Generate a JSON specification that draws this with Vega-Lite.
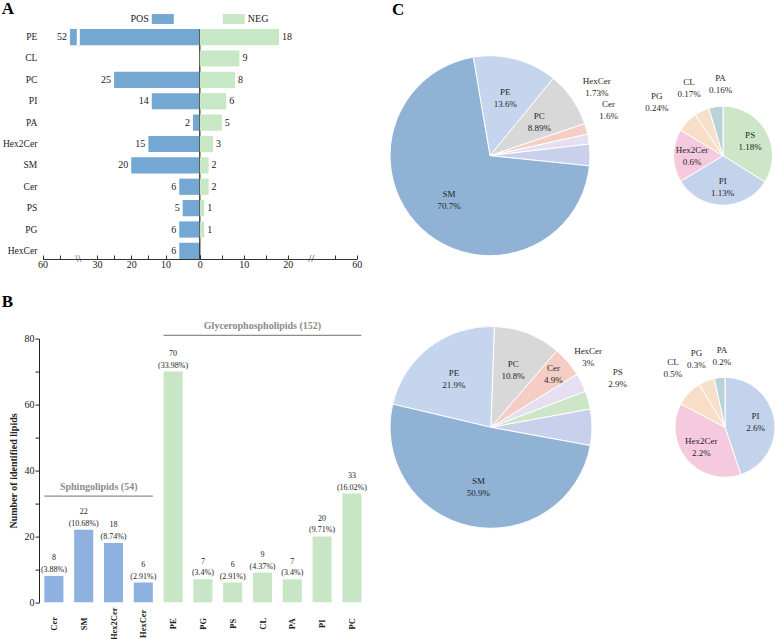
{
  "$schema": "https://vega.github.io/schema/vega-lite/v6.json",
  "background": "white",
  "padding": {"left": 1, "top": 0, "right": 0, "bottom": 0},
  "config": {
    "view": {"stroke": null},
    "font": "Liberation Serif",
    "axis": {"labelFont": "Liberation Serif", "titleFont": "Liberation Serif", "grid": false},
    "legend": {"labelFont": "Liberation Serif"},
    "title": {"font": "Liberation Serif"},
    "text": {"font": "Liberation Serif"}
  },
  "datasets": {
    "lipidsA": [
      {"lipid": "PE", "pos": 52, "neg": 18},
      {"lipid": "CL", "pos": 0, "neg": 9},
      {"lipid": "PC", "pos": 25, "neg": 8},
      {"lipid": "PI", "pos": 14, "neg": 6},
      {"lipid": "PA", "pos": 2, "neg": 5},
      {"lipid": "Hex2Cer", "pos": 15, "neg": 3},
      {"lipid": "SM", "pos": 20, "neg": 2},
      {"lipid": "Cer", "pos": 6, "neg": 2},
      {"lipid": "PS", "pos": 5, "neg": 1},
      {"lipid": "PG", "pos": 6, "neg": 1},
      {"lipid": "HexCer", "pos": 6, "neg": 0}
    ],
    "lipidsB": [
      {"lipid": "Cer", "class": "Sphingolipids", "n": 8, "pct": 3.88},
      {"lipid": "SM", "class": "Sphingolipids", "n": 22, "pct": 10.68},
      {"lipid": "Hex2Cer", "class": "Sphingolipids", "n": 18, "pct": 8.74},
      {"lipid": "HexCer", "class": "Sphingolipids", "n": 6, "pct": 2.91},
      {"lipid": "PE", "class": "Glycerophospholipids", "n": 70, "pct": 33.98},
      {"lipid": "PG", "class": "Glycerophospholipids", "n": 7, "pct": 3.4},
      {"lipid": "PS", "class": "Glycerophospholipids", "n": 6, "pct": 2.91},
      {"lipid": "CL", "class": "Glycerophospholipids", "n": 9, "pct": 4.37},
      {"lipid": "PA", "class": "Glycerophospholipids", "n": 7, "pct": 3.4},
      {"lipid": "PI", "class": "Glycerophospholipids", "n": 20, "pct": 9.71},
      {"lipid": "PC", "class": "Glycerophospholipids", "n": 33, "pct": 16.02}
    ],
    "pieTopMain": [
      {"lipid": "PE", "share": 0.136, "ord": 1},
      {"lipid": "PC", "share": 0.0889, "ord": 2},
      {"lipid": "HexCer", "share": 0.0173, "ord": 3},
      {"lipid": "Cer", "share": 0.016, "ord": 4},
      {"lipid": "Other", "share": 0.0348, "ord": 5},
      {"lipid": "SM", "share": 0.707, "ord": 6}
    ],
    "pieTopSub": [
      {"lipid": "PS", "share": 0.0118, "ord": 1},
      {"lipid": "PI", "share": 0.0113, "ord": 2},
      {"lipid": "Hex2Cer", "share": 0.006, "ord": 3},
      {"lipid": "PG", "share": 0.0024, "ord": 4},
      {"lipid": "CL", "share": 0.0017, "ord": 5},
      {"lipid": "PA", "share": 0.0016, "ord": 6}
    ],
    "pieBottomMain": [
      {"lipid": "PE", "share": 0.219, "ord": 1},
      {"lipid": "PC", "share": 0.108, "ord": 2},
      {"lipid": "Cer", "share": 0.049, "ord": 3},
      {"lipid": "HexCer", "share": 0.03, "ord": 4},
      {"lipid": "PS", "share": 0.029, "ord": 5},
      {"lipid": "Other", "share": 0.058, "ord": 6},
      {"lipid": "SM", "share": 0.509, "ord": 7}
    ],
    "pieBottomSub": [
      {"lipid": "PI", "share": 0.026, "ord": 1},
      {"lipid": "Hex2Cer", "share": 0.022, "ord": 2},
      {"lipid": "CL", "share": 0.005, "ord": 3},
      {"lipid": "PG", "share": 0.003, "ord": 4},
      {"lipid": "PA", "share": 0.002, "ord": 5}
    ]
  },
  "concat": [
    {
      "width": 317.8,
      "height": 230,
      "title": {"text": "A", "anchor": "start", "frame": "group", "dx": -37.2, "offset": -23.4, "baseline": "alphabetic", "fontSize": 17, "fontWeight": "bold", "color": "#000"},
      "data": {"name": "lipidsA"},
      "encoding": {
        "y": {
          "field": "lipid", "type": "nominal",
          "scale": {"domain": ["PE", "CL", "PC", "PI", "PA", "Hex2Cer", "SM", "Cer", "PS", "PG", "HexCer"], "paddingInner": 0.24, "paddingOuter": 0},
          "axis": {"title": null, "domain": false, "ticks": false, "labelPadding": 2.2, "labelFontSize": 9.5, "labelColor": "#222"}
        }
      },
      "resolve": {"scale": {"x": "independent"}},
      "layer": [
        {
          "encoding": {
            "x": {
              "field": "pos", "type": "quantitative",
              "scale": {"domain": [0, 35, 50, 60], "range": [160.8, 40.8, 37.8, 3.5], "nice": false, "zero": false},
              "axis": {"orient": "bottom", "title": null, "values": [0, 5, 10, 15, 20, 25, 30, 55, 60], "labelExpr": "datum.value % 10 === 0 ? datum.label : ''", "tickSize": -4, "tickColor": "#333", "domainColor": "#333", "labelFontSize": 10, "labelColor": "#222", "labelFlush": false, "labelOverlap": false, "labelPadding": 4}
            }
          },
          "layer": [
            {
              "transform": [{"filter": "datum.pos > 0"}],
              "mark": {"type": "bar"},
              "encoding": {
                "fill": {
                  "datum": "POS", "type": "nominal",
                  "scale": {"domain": ["POS"], "range": ["#75A7D3"]},
                  "legend": {"orient": "none", "legendX": 112.8, "legendY": -21, "direction": "horizontal", "title": null, "symbolType": "M-1,-0.45H1V0.45H-1Z", "symbolSize": 484, "symbolStrokeWidth": 0, "labelFontSize": 10, "labelColor": "#222", "labelAlign": "right", "labelOffset": -25, "padding": 0}
                }
              }
            },
            {
              "transform": [{"filter": "datum.pos > 0"}],
              "mark": {"type": "text", "align": "right", "baseline": "middle", "dx": -3, "fontSize": 10, "color": "#222"},
              "encoding": {"text": {"field": "pos", "type": "quantitative"}}
            },
            {
              "transform": [{"filter": "datum.pos > 50"}],
              "mark": {"type": "bar", "color": "white"},
              "encoding": {"x": {"datum": 35, "type": "quantitative"}, "x2": {"datum": 50}}
            },
            {
              "transform": [{"filter": "datum.pos > 50"}],
              "mark": {"type": "text", "fontSize": 11, "baseline": "middle", "color": "#333"},
              "encoding": {"x": {"datum": 42.5, "type": "quantitative"}, "y": {"value": "height"}, "text": {"value": "\\\\"}}
            },
            {
              "transform": [{"filter": "datum.pos > 50"}],
              "mark": {"type": "rule", "color": "#222", "strokeWidth": 1.2},
              "encoding": {"x": {"datum": 0, "type": "quantitative"}, "y": {"value": 0}, "y2": {"value": "height"}}
            }
          ]
        },
        {
          "encoding": {
            "x": {
              "field": "neg", "type": "quantitative",
              "scale": {"domain": [0, 25, 50, 60], "range": [160.8, 270.8, 273.8, 317.8], "nice": false, "zero": false},
              "axis": {"orient": "bottom", "title": null, "values": [0, 5, 10, 15, 20, 55, 60], "labelExpr": "datum.value % 10 === 0 && datum.value > 0 ? datum.label : ''", "tickSize": -4, "tickColor": "#333", "domainColor": "#333", "labelFontSize": 10, "labelColor": "#222", "labelFlush": false, "labelOverlap": false, "labelPadding": 4}
            }
          },
          "layer": [
            {
              "transform": [{"filter": "datum.neg > 0"}],
              "mark": {"type": "bar"},
              "encoding": {
                "color": {
                  "datum": "NEG", "type": "nominal",
                  "scale": {"domain": ["NEG"], "range": ["#C7E7C5"]},
                  "legend": {"orient": "none", "legendX": 183.8, "legendY": -21, "direction": "horizontal", "title": null, "symbolType": "M-1,-0.45H1V0.45H-1Z", "symbolSize": 484, "symbolStrokeWidth": 0, "labelFontSize": 10, "labelColor": "#222", "labelOffset": 3, "padding": 0}
                }
              }
            },
            {
              "transform": [{"filter": "datum.neg > 0"}],
              "mark": {"type": "text", "align": "left", "baseline": "middle", "dx": 3, "fontSize": 10, "color": "#222"},
              "encoding": {"text": {"field": "neg", "type": "quantitative"}}
            },
            {
              "transform": [{"filter": "datum.neg > 15"}],
              "mark": {"type": "text", "fontSize": 11, "baseline": "middle", "color": "#333"},
              "encoding": {"x": {"datum": 37.5, "type": "quantitative"}, "y": {"value": "height"}, "text": {"value": "//"}}
            }
          ]
        }
      ]
    },
    {
      "width": 200,
      "height": 253.4,
      "title": {"text": "C", "anchor": "start", "frame": "group", "dx": 2, "offset": -13.6, "baseline": "alphabetic", "fontSize": 17, "fontWeight": "bold", "color": "#000"},
      "data": {"name": "pieTopMain"},
      "encoding": {
        "theta": {"field": "share", "type": "quantitative", "stack": true, "scale": {"range": [-0.1684, 6.1148]}},
        "order": {"field": "ord", "type": "quantitative"}
      },
      "layer": [
        {
          "mark": {"type": "arc", "outerRadius": 100, "stroke": "white", "strokeWidth": 1},
          "encoding": {"color": {"field": "lipid", "type": "nominal", "scale": {"domain": ["SM", "PE", "PC", "HexCer", "Cer", "Other"], "range": ["#90B3D5", "#C6D5EE", "#D8D8D8", "#F5CDC5", "#E6DFF2", "#C9D0EC"]}, "legend": null}}
        },
        {
          "mark": {"type": "text", "radius": 60, "dy": -6, "fontSize": 9, "lineHeight": 12, "color": "#1f1f1f", "text": {"expr": "indexof(['PE','PC','SM'], datum.lipid) >= 0 ? [datum.lipid, format(datum.share, '.3~%')] : ''"}}
        },
        {
          "mark": {"type": "text", "radius": 127, "thetaOffset": -0.3, "dy": -6, "fontSize": 9, "lineHeight": 12, "color": "#1f1f1f", "text": {"expr": "datum.lipid === 'HexCer' ? [datum.lipid, format(datum.share, '.3~%')] : ''"}}
        },
        {
          "mark": {"type": "text", "radius": 127, "thetaOffset": -0.2, "dy": -6, "fontSize": 9, "lineHeight": 12, "color": "#1f1f1f", "text": {"expr": "datum.lipid === 'Cer' ? [datum.lipid, format(datum.share, '.3~%')] : ''"}}
        }
      ]
    },
    {
      "width": 216,
      "height": 253.4,
      "data": {"name": "pieTopSub"},
      "encoding": {
        "theta": {"field": "share", "type": "quantitative", "stack": true},
        "order": {"field": "ord", "type": "quantitative"}
      },
      "layer": [
        {
          "mark": {"type": "arc", "outerRadius": 49.5, "stroke": "white", "strokeWidth": 1},
          "encoding": {"color": {"field": "lipid", "type": "nominal", "scale": {"domain": ["PS", "PI", "Hex2Cer", "PG", "CL", "PA"], "range": ["#CCE6C7", "#C4D3EC", "#F5CADF", "#F8DEC6", "#F7E0CB", "#B8D2DA"]}, "legend": null}}
        },
        {
          "mark": {"type": "text", "radius": 31, "dy": -6, "fontSize": 9, "lineHeight": 12, "color": "#1f1f1f", "text": {"expr": "indexof(['PS','PI','Hex2Cer'], datum.lipid) >= 0 ? [datum.lipid, format(datum.share, '.3~%')] : ''"}}
        },
        {
          "mark": {"type": "text", "radius": 85, "thetaOffset": -0.08, "dy": -6, "fontSize": 9, "lineHeight": 12, "color": "#1f1f1f", "text": {"expr": "datum.lipid === 'PG' ? [datum.lipid, format(datum.share, '.3~%')] : ''"}}
        },
        {
          "mark": {"type": "text", "radius": 76, "thetaOffset": -0.02, "dy": -6, "fontSize": 9, "lineHeight": 12, "color": "#1f1f1f", "text": {"expr": "datum.lipid === 'CL' ? [datum.lipid, format(datum.share, '.3~%')] : ''"}}
        },
        {
          "mark": {"type": "text", "radius": 72, "thetaOffset": 0.11, "dy": -6, "fontSize": 9, "lineHeight": 12, "color": "#1f1f1f", "text": {"expr": "datum.lipid === 'PA' ? [datum.lipid, format(datum.share, '.3~%')] : ''"}}
        }
      ]
    },
    {
      "width": 327.8,
      "height": 263.7,
      "title": {"text": "B", "anchor": "start", "frame": "group", "dx": -37.2, "offset": -2.4, "baseline": "alphabetic", "fontSize": 17, "fontWeight": "bold", "color": "#000"},
      "data": {"name": "lipidsB"},
      "encoding": {
        "x": {
          "field": "lipid", "type": "nominal",
          "scale": {"domain": ["Cer", "SM", "Hex2Cer", "HexCer", "PE", "PG", "PS", "CL", "PA", "PI", "PC"], "paddingInner": 0.36, "paddingOuter": 0.18},
          "axis": {"title": null, "domain": false, "ticks": false, "labelAngle": -90, "labelAlign": "center", "labelBaseline": "middle", "labelPadding": 21, "labelFontWeight": "bold", "labelFontSize": 8.5, "labelColor": "#222"}
        },
        "y": {
          "field": "n", "type": "quantitative",
          "scale": {"domain": [0, 80], "nice": false},
          "axis": {"title": "Number of identified lipids", "values": [0, 10, 20, 30, 40, 50, 60, 70, 80], "labelExpr": "datum.value % 20 === 0 ? datum.label : ''", "tickSize": 4, "tickColor": "#222", "domainColor": "#222", "labelFontSize": 10, "labelColor": "#222", "labelPadding": 1, "titleFontSize": 10, "titleFontWeight": "bold", "titleColor": "#222", "titlePadding": 6}
        }
      },
      "layer": [
        {
          "mark": {"type": "bar"},
          "encoding": {
            "color": {"field": "class", "type": "nominal", "scale": {"domain": ["Sphingolipids", "Glycerophospholipids"], "range": ["#8EB1DF", "#C8E6C6"]}, "legend": null}
          }
        },
        {
          "mark": {"type": "text", "baseline": "bottom", "dy": -13.5, "fontSize": 8, "lineHeight": 11.5, "color": "#222", "text": {"expr": "[datum.n + '', '(' + datum.pct + '%)']"}}
        },
        {
          "transform": [{"filter": "datum.lipid === 'Cer'"}],
          "mark": {"type": "rule", "color": "#8c8c8c", "strokeWidth": 1.2, "xOffset": -9.5, "x2Offset": 9.5},
          "encoding": {"x2": {"datum": "HexCer"}, "y": {"datum": 32.2, "type": "quantitative"}}
        },
        {
          "transform": [
            {"joinaggregate": [{"op": "sum", "field": "n", "as": "total"}], "groupby": ["class"]},
            {"filter": "datum.lipid === 'SM'"}
          ],
          "mark": {"type": "text", "fontSize": 10, "fontWeight": "bold", "color": "#8c8c8c", "baseline": "alphabetic", "dy": -6, "xOffset": 15, "text": {"expr": "datum.class + ' (' + datum.total + ')'"}},
          "encoding": {"y": {"datum": 32.2, "type": "quantitative"}}
        },
        {
          "transform": [{"filter": "datum.lipid === 'PE'"}],
          "mark": {"type": "rule", "color": "#8c8c8c", "strokeWidth": 1.2, "xOffset": -9.5, "x2Offset": 9.5},
          "encoding": {"x2": {"datum": "PC"}, "y": {"datum": 81, "type": "quantitative"}}
        },
        {
          "transform": [
            {"joinaggregate": [{"op": "sum", "field": "n", "as": "total"}], "groupby": ["class"]},
            {"filter": "datum.lipid === 'CL'"}
          ],
          "mark": {"type": "text", "fontSize": 10, "fontWeight": "bold", "color": "#8c8c8c", "baseline": "alphabetic", "dy": -6, "text": {"expr": "datum.class + ' (' + datum.total + ')'"}},
          "encoding": {"y": {"datum": 81, "type": "quantitative"}}
        }
      ]
    },
    {
      "width": 202,
      "height": 177.4,
      "data": {"name": "pieBottomMain"},
      "encoding": {
        "theta": {"field": "share", "type": "quantitative", "stack": true, "scale": {"range": [-1.3387, 4.9445]}},
        "order": {"field": "ord", "type": "quantitative"}
      },
      "layer": [
        {
          "mark": {"type": "arc", "outerRadius": 101, "stroke": "white", "strokeWidth": 1},
          "encoding": {"color": {"field": "lipid", "type": "nominal", "scale": {"domain": ["SM", "PE", "PC", "Cer", "HexCer", "PS", "Other"], "range": ["#90B3D5", "#C6D5EE", "#D8D8D8", "#F5CDC5", "#E6DFF2", "#CCE6C7", "#C9D0EC"]}, "legend": null}}
        },
        {
          "mark": {"type": "text", "radius": 61, "dy": -6, "fontSize": 9, "lineHeight": 12, "color": "#1f1f1f", "text": {"expr": "indexof(['PE','PC','SM'], datum.lipid) >= 0 ? [datum.lipid, format(datum.share, '.3~%')] : ''"}}
        },
        {
          "mark": {"type": "text", "radius": 82, "dy": -6, "fontSize": 9, "lineHeight": 12, "color": "#1f1f1f", "text": {"expr": "datum.lipid === 'Cer' ? [datum.lipid, format(datum.share, '.3~%')] : ''"}}
        },
        {
          "mark": {"type": "text", "radius": 120, "thetaOffset": -0.17, "dy": -6, "fontSize": 9, "lineHeight": 12, "color": "#1f1f1f", "text": {"expr": "datum.lipid === 'HexCer' ? [datum.lipid, format(datum.share, '.3~%')] : ''"}}
        },
        {
          "mark": {"type": "text", "radius": 136, "thetaOffset": -0.1, "dy": -6, "fontSize": 9, "lineHeight": 12, "color": "#1f1f1f", "text": {"expr": "datum.lipid === 'PS' ? [datum.lipid, format(datum.share, '.3~%')] : ''"}}
        }
      ]
    },
    {
      "width": 220,
      "height": 177.4,
      "data": {"name": "pieBottomSub"},
      "encoding": {
        "theta": {"field": "share", "type": "quantitative", "stack": true},
        "order": {"field": "ord", "type": "quantitative"}
      },
      "layer": [
        {
          "mark": {"type": "arc", "outerRadius": 50, "stroke": "white", "strokeWidth": 1},
          "encoding": {"color": {"field": "lipid", "type": "nominal", "scale": {"domain": ["PI", "Hex2Cer", "CL", "PG", "PA"], "range": ["#C4D3EC", "#F5CADF", "#F8DEC6", "#F7E0CB", "#B8D2DA"]}, "legend": null}}
        },
        {
          "mark": {"type": "text", "radius": 31, "dy": -6, "fontSize": 9, "lineHeight": 12, "color": "#1f1f1f", "text": {"expr": "indexof(['PI','Hex2Cer'], datum.lipid) >= 0 ? [datum.lipid, format(datum.share, '.3~%')] : ''"}}
        },
        {
          "mark": {"type": "text", "radius": 79, "thetaOffset": 0.094, "dy": -6, "fontSize": 9, "lineHeight": 12, "color": "#1f1f1f", "text": {"expr": "datum.lipid === 'CL' ? [datum.lipid, format(datum.share, '.3~%')] : ''"}}
        },
        {
          "mark": {"type": "text", "radius": 74, "thetaOffset": -0.017, "dy": -6, "fontSize": 9, "lineHeight": 12, "color": "#1f1f1f", "text": {"expr": "datum.lipid === 'PG' ? [datum.lipid, format(datum.share, '.3~%')] : ''"}}
        },
        {
          "mark": {"type": "text", "radius": 71, "thetaOffset": 0.066, "dy": -6, "fontSize": 9, "lineHeight": 12, "color": "#1f1f1f", "text": {"expr": "datum.lipid === 'PA' ? [datum.lipid, format(datum.share, '.3~%')] : ''"}}
        }
      ]
    }
  ],
  "columns": 3,
  "spacing": {"row": 55.6, "column": 23},
  "align": "each",
  "bounds": "flush",
  "resolve": {"scale": {"x": "independent", "y": "independent", "color": "independent", "fill": "independent", "theta": "independent"}}
}
